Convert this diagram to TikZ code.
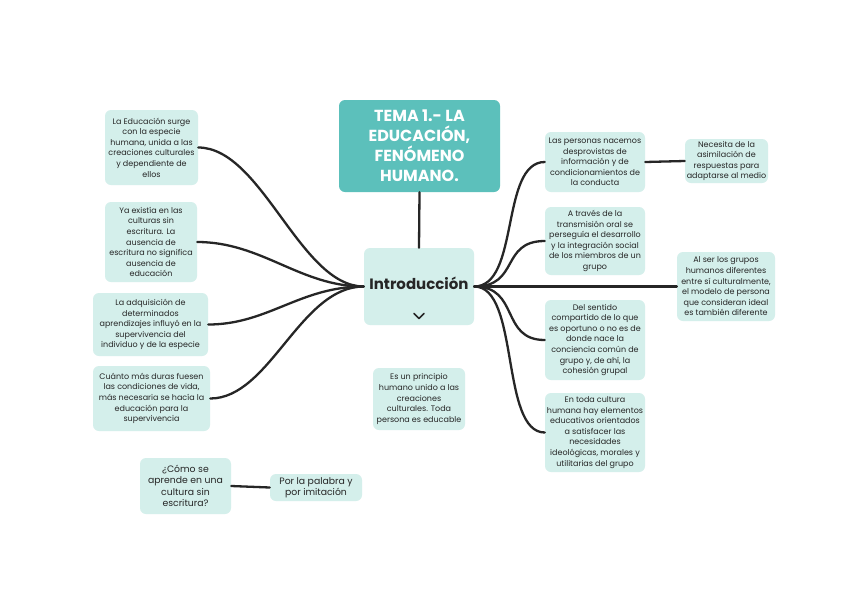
\documentclass[tikz,border=0pt]{standalone}
\usepackage{fontspec}
\setmainfont{Poppins}
\definecolor{mint}{HTML}{D4EFEB}
\definecolor{teal}{HTML}{5CC0BB}
\definecolor{ink}{HTML}{262626}
\begin{document}
\begin{tikzpicture}[x=1pt,y=-1pt,
  box/.style={fill=mint,rounded corners=6pt,align=center,inner sep=1pt,text=ink,
    font=\fontsize{8}{10.6}\selectfont},
  conn/.style={draw=ink,line width=2.3pt,line cap=round}]
\useasboundingbox[fill=white] (0,0) rectangle (848,600);
% central
\node[box,fill=teal,text=white,minimum width=161pt,minimum height=92pt,
  font=\fontsize{16}{20}\selectfont\bfseries] (title) at (419.5,146)
  {TEMA 1.- LA\\EDUCACIÓN,\\FENÓMENO\\HUMANO.};
\node[box,minimum width=110pt,minimum height=77pt] (intro) at (419,286.5) {};
\node[text=ink,font=\fontsize{15}{17}\selectfont\bfseries] (introtxt) at (419,283) {Introducción};
\draw[ink,line width=1.6pt,line cap=round,line join=round] (414,313.5) -- (419,318.5) -- (424,313.5);
% left
\node[box,minimum width=93pt,minimum height=75pt] (l1) at (151.5,147.5)
  {La Educación surge\\con la especie\\humana, unida a las\\creaciones culturales\\y dependiente de\\ellos};
\node[box,minimum width=92pt,minimum height=80pt] (l2) at (151,242)
  {Ya existía en las\\culturas sin\\escritura. La\\ausencia de\\escritura no significa\\ausencia de\\educación};
\node[box,minimum width=115pt,minimum height=63pt] (l3) at (150.5,324.5)
  {La adquisición de\\determinados\\aprendizajes influyó en la\\supervivencia del\\individuo y de la especie};
\node[box,minimum width=117pt,minimum height=65pt] (l4) at (151.5,398.5)
  {Cuánto más duras fuesen\\las condiciones de vida,\\más necesaria se hacía la\\educación para la\\supervivencia};
% right
\node[box,minimum width=100pt,minimum height=60pt] (r1) at (595,162)
  {Las personas nacemos\\desprovistas de\\información y de\\condicionamientos de\\la conducta};
\node[box,minimum width=83pt,minimum height=44pt] (r1a) at (726.5,161)
  {Necesita de la\\asimilación de\\respuestas para\\adaptarse al medio};
\node[box,minimum width=100pt,minimum height=68pt] (r2) at (595,241)
  {A través de la\\transmisión oral se\\perseguía el desarrollo\\y la integración social\\de los miembros de un\\grupo};
\node[box,minimum width=98pt,minimum height=69pt] (r5) at (726,286.5)
  {Al ser los grupos\\humanos diferentes\\entre sí culturalmente,\\el modelo de persona\\que consideran ideal\\es también diferente};
\node[box,minimum width=100pt,minimum height=80pt] (r3) at (595,340)
  {Del sentido\\compartido de lo que\\es oportuno o no es de\\donde nace la\\conciencia común de\\grupo y, de ahí, la\\cohesión grupal};
\node[box,minimum width=100pt,minimum height=79pt] (r4) at (595,432.5)
  {En toda cultura\\humana hay elementos\\educativos orientados\\a satisfacer las\\necesidades\\ideológicas, morales y\\utilitarias del grupo};
% others
\node[box,minimum width=92pt,minimum height=62pt] (princ) at (419,399)
  {Es un principio\\humano unido a las\\creaciones\\culturales. Toda\\persona es educable};
\node[box,minimum width=91pt,minimum height=56pt,font=\fontsize{9.3}{11.4}\selectfont] (q) at (185.5,486)
  {¿Cómo se\\aprende en una\\cultura sin\\escritura?};
\node[box,minimum width=92pt,minimum height=27pt,font=\fontsize{9.3}{11.2}\selectfont] (a) at (316,487.5)
  {Por la palabra y\\por imitación};
% connectors
\draw[conn] (title.south) -- (intro.north);
\draw[conn] (intro.west) .. controls (300,286.5) and (262,147.5) .. (l1.east);
\draw[conn] (intro.west) .. controls (300,286.5) and (262,242) .. (l2.east);
\draw[conn] (intro.west) .. controls (300,286.5) and (268,324.5) .. (l3.east);
\draw[conn] (intro.west) .. controls (300,286.5) and (270,398.5) .. (l4.east);
\draw[conn] (intro.east) .. controls (520,286.5) and (500,162) .. (r1.west);
\draw[conn] (intro.east) .. controls (520,286.5) and (500,241) .. (r2.west);
\draw[conn] (intro.east) .. controls (520,286.5) and (500,340) .. (r3.west);
\draw[conn] (intro.east) .. controls (520,286.5) and (500,432.5) .. (r4.west);
\draw[conn] (intro.east) -- (r5.west);
\draw[conn] (r1.east) -- (r1a.west);
\draw[conn] (q.east) -- (a.west);
\end{tikzpicture}
\end{document}
